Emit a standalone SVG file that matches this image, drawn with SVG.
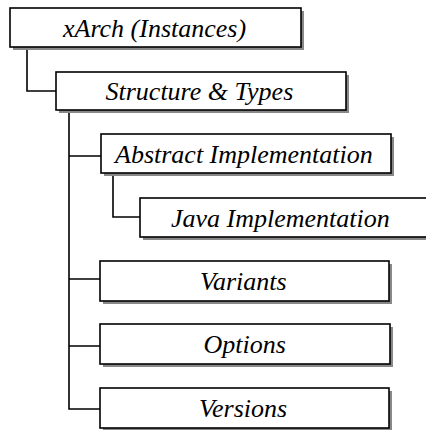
<svg xmlns="http://www.w3.org/2000/svg" width="426" height="430" viewBox="0 0 426 430" font-family="Liberation Serif, serif" font-style="italic" font-size="26">
<style>
.sh{fill:#888888;stroke:none}
.bx{fill:#ffffff;stroke:#000000;stroke-width:1.6}
.c{fill:none;stroke:#000000;stroke-width:1.6}
</style>
<rect width="426" height="430" fill="#ffffff"/>
<g id="connectors">
<path class="c" d="M27,47 V91 H56"/>
<path class="c" d="M69,110 V409 H100 M69,156 H101 M69,279 H100 M69,346 H100"/>
<path class="c" d="M113,173 V217 H140"/>
</g>
<g id="n1">
<rect class="sh" x="13" y="11" width="291" height="39"/>
<rect class="bx" x="10" y="8" width="291" height="39"/>
</g>
<g id="n2">
<rect class="sh" x="59" y="75" width="290" height="38"/>
<rect class="bx" x="56" y="72" width="290" height="38"/>
</g>
<g id="n3">
<rect class="sh" x="104" y="137" width="290" height="39"/>
<rect class="bx" x="101" y="134" width="290" height="39"/>
</g>
<g id="n4">
<rect class="sh" x="143" y="201" width="300" height="39"/>
<rect class="bx" x="140" y="198" width="300" height="39"/>
</g>
<g id="n5">
<rect class="sh" x="103" y="264" width="289" height="40"/>
<rect class="bx" x="100" y="261" width="289" height="40"/>
</g>
<g id="n6">
<rect class="sh" x="103" y="327" width="290" height="40"/>
<rect class="bx" x="100" y="324" width="290" height="40"/>
</g>
<g id="n7">
<rect class="sh" x="103" y="391" width="289" height="40"/>
<rect class="bx" x="100" y="388" width="289" height="40"/>
</g>
<text x="63" y="37" font-family="Liberation Serif" font-style="italic" font-size="26">xArch (Instances)</text>
<text x="105.5" y="100" font-family="Liberation Serif" font-style="italic" font-size="26">Structure &amp; Types</text>
<text x="115" y="163" font-family="Liberation Serif" font-style="italic" font-size="26">Abstract Implementation</text>
<text x="171" y="227" font-family="Liberation Serif" font-style="italic" font-size="26">Java Implementation</text>
<text x="200" y="290" font-family="Liberation Serif" font-style="italic" font-size="26">Variants</text>
<text x="203.5" y="353" font-family="Liberation Serif" font-style="italic" font-size="26">Options</text>
<text x="199" y="417" font-family="Liberation Serif" font-style="italic" font-size="26">Versions</text>
</svg>
